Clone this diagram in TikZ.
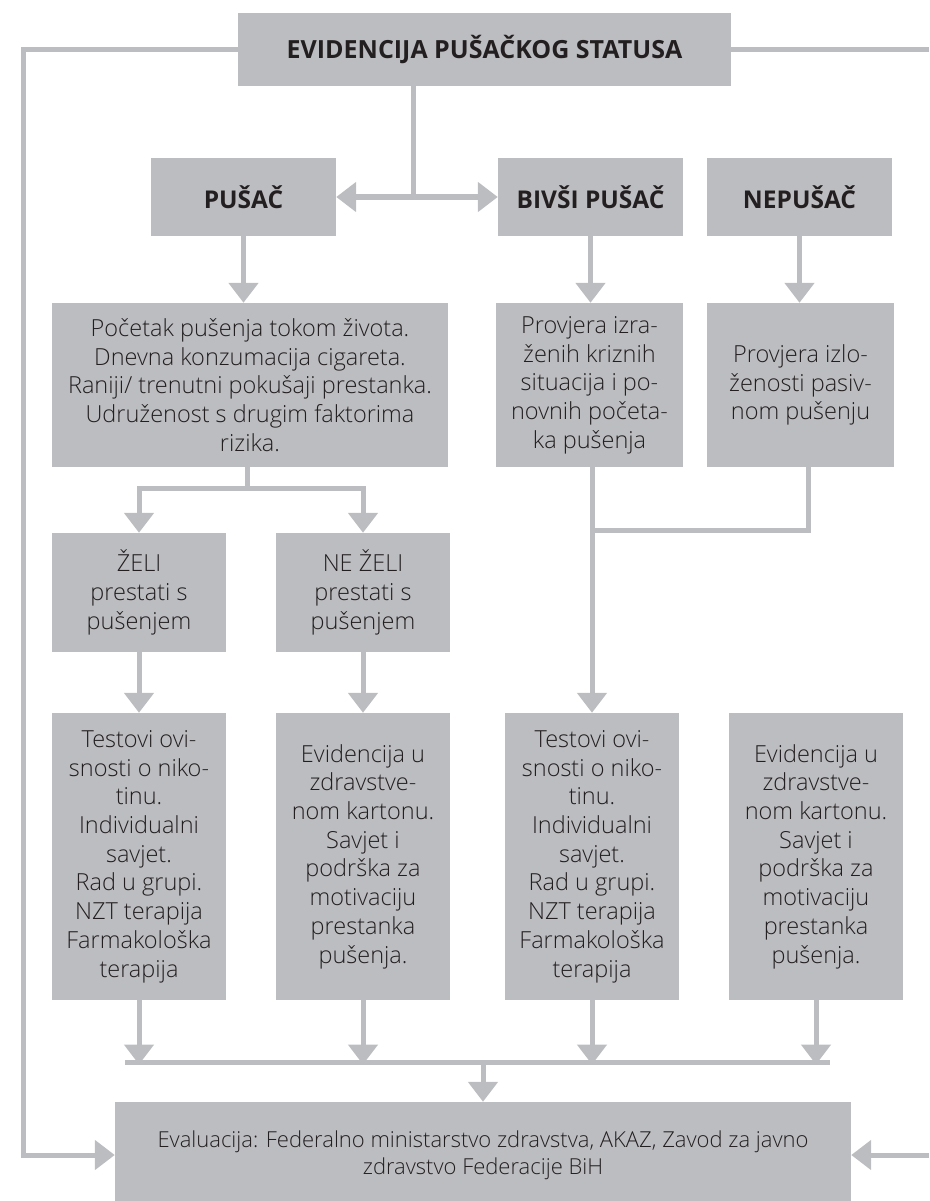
\documentclass[tikz,border=0pt]{standalone}
\usepackage{fontspec}
\setmainfont{Open Sans}
\IfFontExistsTF{Open Sans Light}{\newfontfamily\bodyfont{Open Sans Light}}{\newfontfamily\bodyfont{Open Sans}}
\usetikzlibrary{arrows.meta}
\definecolor{boxgray}{HTML}{BCBDC0}
\definecolor{ink}{HTML}{231F20}
\begin{document}
\begin{tikzpicture}[x=1pt,y=-1pt,
  box/.style={fill=boxgray, draw=none, inner sep=0pt, text=ink, align=center,
    font=\bodyfont\fontsize{23.5}{28.7}\selectfont},
  headbox/.style={box, font=\fontsize{24.5}{30}\selectfont\bfseries},
  conn/.style={draw=boxgray, line width=5pt},
  arr/.style={conn, -{Triangle[width=29pt,length=20pt]}},
  dblarr/.style={conn, {Triangle[width=29pt,length=20pt]}-{Triangle[width=29pt,length=20pt]}}
]
\useasboundingbox (0,0) rectangle (929,1201);

% boxes
\node[headbox, minimum width=493pt, minimum height=73pt, font=\fontsize{25}{30}\selectfont\bfseries] (top) at (484.5,49.5) {EVIDENCIJA PUŠAČKOG STATUSA};
\node[headbox, minimum width=185pt, minimum height=78pt] (pusac) at (243.5,197) {PUŠAČ};
\node[headbox, minimum width=185pt, minimum height=78pt] (bivsi) at (590.5,197) {BIVŠI PUŠAČ};
\node[headbox, minimum width=185pt, minimum height=78pt] (nepusac) at (799.5,197) {NEPUŠAČ};

\node[box, minimum width=396pt, minimum height=164pt] (info) at (250,385)
  {Početak pušenja tokom života.\\Dnevna konzumacija cigareta.\\Raniji/ trenutni pokušaji prestanka.\\Udruženost s drugim faktorima\\rizika.};
\node[box, minimum width=187pt, minimum height=164pt] (provA) at (589.5,385)
  {Provjera izra-\\ženih kriznih\\situacija i po-\\novnih početa-\\ka pušenja};
\node[box, minimum width=187pt, minimum height=164pt] (provB) at (800.5,385)
  {Provjera izlo-\\ženosti pasiv-\\nom pušenju};

\node[box, minimum width=174pt, minimum height=119pt] (zeli) at (139,592.5)
  {ŽELI\\prestati s\\pušenjem};
\node[box, minimum width=174pt, minimum height=119pt] (nezeli) at (363,592.5)
  {NE ŽELI\\prestati s\\pušenjem};

\node[box, minimum width=174pt, minimum height=287pt] (b1) at (139,856.5)
  {Testovi ovi-\\snosti o niko-\\tinu.\\Individualni\\savjet.\\Rad u grupi.\\NZT terapija\\Farmakološka\\terapija};
\node[box, minimum width=174pt, minimum height=287pt] (b2) at (363,856.5)
  {Evidencija u\\zdravstve-\\nom kartonu.\\Savjet i\\podrška za\\motivaciju\\prestanka\\pušenja.};
\node[box, minimum width=174pt, minimum height=287pt] (b3) at (592,856.5)
  {Testovi ovi-\\snosti o niko-\\tinu.\\Individualni\\savjet.\\Rad u grupi.\\NZT terapija\\Farmakološka\\terapija};
\node[box, minimum width=174pt, minimum height=287pt] (b4) at (816,856.5)
  {Evidencija u\\zdravstve-\\nom kartonu.\\Savjet i\\podrška za\\motivaciju\\prestanka\\pušenja.};

\node[box, minimum width=736pt, minimum height=106pt, font=\bodyfont\fontsize{22}{27}\selectfont] (eval) at (483,1155)
  {Evaluacija: Federalno ministarstvo zdravstva, AKAZ, Zavod za javno\\zdravstvo Federacije BiH};

% helper coordinates
\coordinate (split) at (413,197);
\coordinate (j1) at (247,488);
\coordinate (j2) at (808,530);
\coordinate (barL) at (125,1062);
\coordinate (barR) at (830,1062);
\coordinate (lc) at (23,0);
\coordinate (rc) at (929,0);

% connectors
\draw[conn] (top.south -| split) -- (split);
\draw[dblarr] (pusac.east) -- (bivsi.west);

\draw[arr] (pusac.south) -- (pusac.south |- info.north);
\draw[arr] (bivsi.south) -- (bivsi.south |- provA.north);
\draw[arr] (nepusac.south) -- (nepusac.south |- provB.north);

\draw[conn] (info.south -| j1) -- (j1);
\draw[arr] (j1) -| (zeli.north);
\draw[arr] (j1) -| (nezeli.north);

\draw[arr] (zeli.south) -- (b1.north);
\draw[arr] (nezeli.south) -- (b2.north);

\draw[conn] (provB.south -| j2) -- (j2) -- (j2 -| b3.north);
\draw[arr] (b3.north |- provA.south) -- (b3.north);

\draw[arr] (b1.south) -- ([yshift=-2.5pt]b1.south |- barL);
\draw[arr] (b2.south) -- ([yshift=-2.5pt]b2.south |- barL);
\draw[arr] (b3.south) -- ([yshift=-2.5pt]b3.south |- barL);
\draw[arr] (b4.south) -- ([yshift=-2.5pt]b4.south |- barL);
\draw[conn] (barL) -- (barR);
\draw[arr] (eval.north |- barL) -- (eval.north);

\draw[arr] (top.west) -- (top.west -| lc) -- (lc |- eval.west) -- (eval.west);
\draw[conn] (top.east) -- (top.east -| rc);
\draw[arr] (eval.east -| rc) -- (eval.east);
\end{tikzpicture}
\end{document}
